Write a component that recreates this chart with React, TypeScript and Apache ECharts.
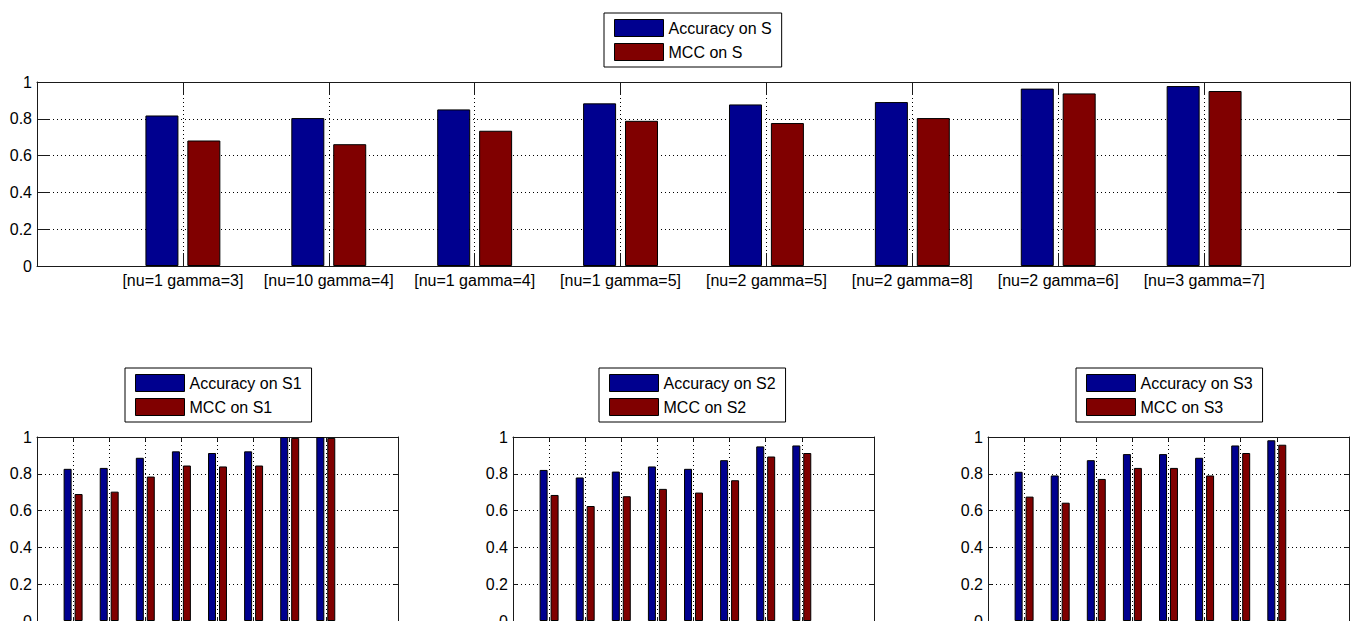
import React, { useEffect, useRef } from 'react';
import * as echarts from 'echarts';

const configLabels = ['[nu=1 gamma=3]', '[nu=10 gamma=4]', '[nu=1 gamma=4]', '[nu=1 gamma=5]', '[nu=2 gamma=5]', '[nu=2 gamma=8]', '[nu=2 gamma=6]', '[nu=3 gamma=7]'];
const subsetPositions = ['1', '2', '3', '4', '5', '6', '7', '8'];

const accS = [0.818, 0.804, 0.851, 0.884, 0.878, 0.891, 0.964, 0.978];
const mccS = [0.682, 0.662, 0.735, 0.789, 0.777, 0.804, 0.938, 0.951];
const accS1 = [0.827, 0.832, 0.887, 0.922, 0.913, 0.922, 1.0, 1.0];
const mccS1 = [0.69, 0.703, 0.785, 0.845, 0.84, 0.845, 0.995, 0.995];
const accS2 = [0.821, 0.78, 0.812, 0.84, 0.827, 0.874, 0.949, 0.954];
const mccS2 = [0.685, 0.625, 0.678, 0.718, 0.698, 0.765, 0.894, 0.913];
const accS3 = [0.811, 0.791, 0.874, 0.907, 0.907, 0.887, 0.954, 0.982];
const mccS3 = [0.676, 0.643, 0.772, 0.832, 0.832, 0.791, 0.913, 0.958];

const BLUE = '#00008F';
const RED = '#800000';
const AXIS = '#1a1a1a';
const FONT = "'Liberation Sans', Arial, Helvetica, sans-serif";

type Panel = {
  set: string;
  cats: string[];
  acc: number[];
  mcc: number[];
  grid: { left: number; top: number; width: number; height: number };
  legendLeft: number;
  legendTop: number;
  tickLen: number;
  barWidth: number;
  barGap: string;
  showXLabels: boolean;
};

export default function App() {
  const ref = useRef<HTMLDivElement>(null);

  useEffect(() => {
    document.body.style.margin = '0';
    if (!ref.current) return;
    const chart = echarts.init(ref.current, null, { renderer: 'svg' });

    const panels: Panel[] = [
      {
        set: 'S',
        cats: ['', ...configLabels, ''],
        acc: accS,
        mcc: mccS,
        grid: { left: 37, top: 82, width: 1313, height: 184 },
        legendLeft: 604,
        legendTop: 13,
        tickLen: 13,
        barWidth: 33,
        barGap: '27%',
        showXLabels: true,
      },
      {
        set: 'S1',
        cats: ['', ...subsetPositions, '', ''],
        acc: accS1,
        mcc: mccS1,
        grid: { left: 37, top: 437, width: 361, height: 184 },
        legendLeft: 125,
        legendTop: 368,
        tickLen: 4,
        barWidth: 8,
        barGap: '37%',
        showXLabels: false,
      },
      {
        set: 'S2',
        cats: ['', ...subsetPositions, '', ''],
        acc: accS2,
        mcc: mccS2,
        grid: { left: 513, top: 437, width: 361, height: 184 },
        legendLeft: 599,
        legendTop: 368,
        tickLen: 4,
        barWidth: 8,
        barGap: '37%',
        showXLabels: false,
      },
      {
        set: 'S3',
        cats: ['', ...subsetPositions, '', ''],
        acc: accS3,
        mcc: mccS3,
        grid: { left: 988, top: 437, width: 361, height: 184 },
        legendLeft: 1076,
        legendTop: 368,
        tickLen: 4,
        barWidth: 8,
        barGap: '37%',
        showXLabels: false,
      },
    ];

    const grids: any[] = [];
    const xAxes: any[] = [];
    const yAxes: any[] = [];
    const series: any[] = [];
    const legends: any[] = [];
    const dotted = { color: '#000', width: 1, type: [1, 3] };

    panels.forEach((p, i) => {
      const n = p.cats.length;
      const inner = (idx: number) => idx > 0 && idx < n - 1 && p.cats[idx] !== '';
      grids.push({ ...p.grid, containLabel: false, outerBoundsMode: 'none' });
      xAxes.push({
        type: 'category',
        gridIndex: i,
        data: p.cats,
        boundaryGap: false,
        position: 'bottom',
        axisLine: { show: true, onZero: false, lineStyle: { color: AXIS, width: 1 } },
        axisTick: { show: true, inside: true, length: p.tickLen, interval: (idx: number) => inner(idx), lineStyle: { color: AXIS } },
        axisLabel: { show: p.showXLabels, interval: 0, margin: 6, color: '#000', fontSize: 16, fontFamily: FONT },
        splitLine: { show: true, interval: (idx: number) => inner(idx), lineStyle: dotted },
      });
      xAxes.push({
        type: 'category',
        gridIndex: i,
        data: p.cats,
        boundaryGap: false,
        position: 'top',
        axisLine: { show: true, onZero: false, lineStyle: { color: AXIS, width: 1 } },
        axisTick: { show: true, inside: true, length: p.tickLen, interval: (idx: number) => inner(idx), lineStyle: { color: AXIS } },
        axisLabel: { show: false },
        splitLine: { show: false },
      });
      yAxes.push({
        type: 'value',
        gridIndex: i,
        min: 0,
        max: 1,
        interval: 0.2,
        position: 'left',
        axisLine: { show: true, lineStyle: { color: AXIS, width: 1 } },
        axisTick: { show: true, inside: true, length: p.tickLen, lineStyle: { color: AXIS } },
        axisLabel: { show: true, margin: 5, color: '#000', fontSize: 16, fontFamily: FONT },
        splitLine: { show: true, lineStyle: dotted },
      });
      yAxes.push({
        type: 'value',
        gridIndex: i,
        min: 0,
        max: 1,
        interval: 0.2,
        position: 'right',
        axisLine: { show: true, lineStyle: { color: AXIS, width: 1 } },
        axisTick: { show: true, inside: true, length: p.tickLen, lineStyle: { color: AXIS } },
        axisLabel: { show: false },
        splitLine: { show: false },
      });
      const pad = (vals: number[]) => {
        const arr: any[] = p.cats.map(() => '-');
        vals.forEach((v, k) => {
          arr[k + 1] = v;
        });
        return arr;
      };
      const accName = 'Accuracy on ' + p.set;
      const mccName = 'MCC on ' + p.set;
      series.push({
        type: 'bar',
        name: accName,
        xAxisIndex: i * 2,
        yAxisIndex: i * 2,
        data: pad(p.acc),
        barWidth: p.barWidth,
        barGap: p.barGap,
        itemStyle: { color: BLUE, borderColor: '#000', borderWidth: 1 },
        silent: true,
      });
      series.push({
        type: 'bar',
        name: mccName,
        xAxisIndex: i * 2,
        yAxisIndex: i * 2,
        data: pad(p.mcc),
        barWidth: p.barWidth,
        barGap: p.barGap,
        itemStyle: { color: RED, borderColor: '#000', borderWidth: 1 },
        silent: true,
      });
      legends.push({
        data: [accName, mccName],
        left: p.legendLeft,
        top: p.legendTop,
        orient: 'vertical',
        icon: 'rect',
        itemWidth: 49,
        itemHeight: 17,
        itemGap: 6,
        padding: [6, 10, 6, 10],
        borderColor: '#000',
        borderWidth: 1,
        backgroundColor: '#fff',
        selectedMode: false,
        itemStyle: { borderColor: '#000', borderWidth: 1 },
        textStyle: { color: '#000', fontSize: 16, fontFamily: FONT },
      });
    });

    chart.setOption({
      animation: false,
      backgroundColor: '#fff',
      textStyle: { fontFamily: FONT },
      grid: grids,
      xAxis: xAxes,
      yAxis: yAxes,
      legend: legends,
      series,
    });

    return () => {
      chart.dispose();
    };
  }, []);

  return <div ref={ref} style={{ width: 1360, height: 621 }} />;
}
